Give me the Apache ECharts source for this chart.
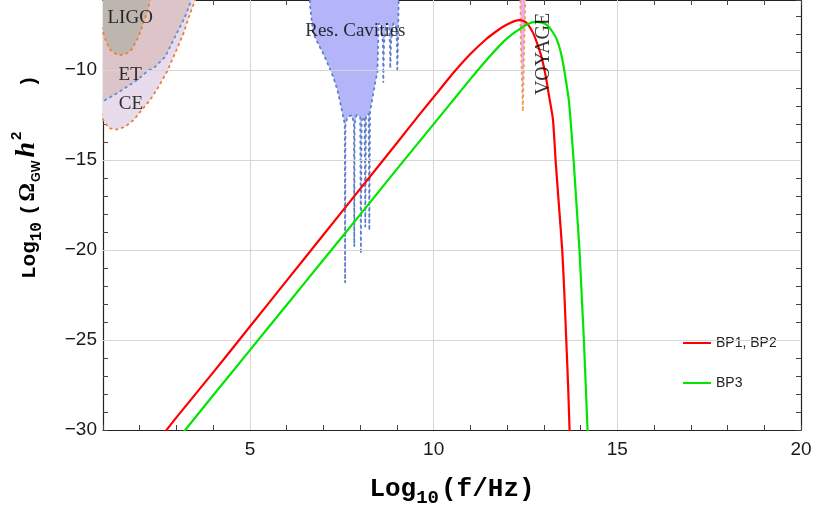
<!DOCTYPE html>
<html>
<head>
<meta charset="utf-8">
<script src="https://cdn.jsdelivr.net/npm/echarts@6/dist/echarts.min.js"></script>
<style>
  html, body { margin: 0; padding: 0; background: #fff; }
  #chart { width: 819px; height: 511px; }
</style>
</head>
<body>
<div id="chart"></div>
<script>
// spectra (log10 f, log10 Omega h^2)
const bp12 = [[2.5,-30.6],[3,-29.3],[4,-26.8],[5,-24.25],[6,-21.7],[7,-19.15],[8,-16.6],[9,-14.05],[9.64,-12.4],[10.1,-11.25],[10.55,-10.12],[11.0,-9.1],[11.45,-8.24],[11.7,-7.85],[11.91,-7.56],[12.1,-7.36],[12.32,-7.22],[12.45,-7.27],[12.55,-7.41],[12.7,-7.9],[12.82,-8.52],[12.92,-9.15],[13.0,-9.81],[13.07,-10.55],[13.13,-11.3],[13.19,-12.0],[13.25,-12.78],[13.32,-15],[13.41,-17.5],[13.5,-20],[13.56,-22.5],[13.61,-25],[13.66,-27.5],[13.70,-30],[13.72,-31]];
const bp3 = [[3.0,-30.6],[4,-28.07],[5,-25.56],[6,-23.05],[7,-20.54],[8,-18.03],[9,-15.5],[10,-13.0],[10.5,-11.75],[11.0,-10.5],[11.5,-9.3],[11.91,-8.4],[12.15,-7.98],[12.36,-7.69],[12.55,-7.45],[12.77,-7.32],[12.95,-7.36],[13.09,-7.5],[13.23,-7.85],[13.36,-8.33],[13.46,-9.0],[13.54,-9.81],[13.61,-10.7],[13.68,-11.67],[13.72,-12.6],[13.77,-13.9],[13.81,-15],[13.89,-17.5],[13.97,-20],[14.03,-22.5],[14.09,-25],[14.14,-27.5],[14.19,-30],[14.21,-31]];

// detector sensitivity edges
const ligoEdge = [[0.9,-7.3],[1.03,-8.06],[1.10,-8.48],[1.19,-8.85],[1.33,-9.07],[1.46,-9.17],[1.65,-9.07],[1.78,-8.85],[1.87,-8.52],[1.96,-8.15],[2.03,-7.78],[2.10,-7.32],[2.19,-6.85],[2.26,-6.29],[2.30,-5.8],[0.9,-5.8]];
const etEdge = [[0.9,-11.8],[1.05,-11.67],[1.37,-11.30],[1.65,-10.93],[1.92,-10.56],[2.19,-10.09],[2.42,-9.81],[2.69,-9.26],[2.87,-8.52],[3.05,-7.78],[3.23,-7.04],[3.37,-6.29],[3.43,-5.8],[0.9,-5.8]];
const ceEdge = [[0.95,-12.4],[1.01,-12.78],[1.10,-13.06],[1.19,-13.24],[1.37,-13.30],[1.60,-13.15],[1.83,-12.78],[2.05,-12.22],[2.28,-11.67],[2.51,-10.93],[2.74,-10.09],[2.96,-9.07],[3.19,-7.96],[3.37,-6.85],[3.51,-6.11],[3.53,-5.8],[0.95,-5.8]];
const cavityEdge = [[6.62,-5.8],[6.64,-6.5],[6.72,-7.94],[6.85,-8.5],[6.99,-9.06],[7.13,-9.7],[7.27,-10.39],[7.38,-11.1],[7.46,-11.83],[7.54,-12.6],[7.58,-13.0],[7.59,-21.8],[7.60,-13.0],[7.66,-12.6],[7.78,-12.5],[7.83,-13],[7.84,-19.8],[7.85,-13],[7.9,-12.5],[8.0,-12.6],[8.02,-20.2],[8.04,-12.8],[8.12,-12.6],[8.14,-18.7],[8.16,-12.6],[8.23,-12.4],[8.25,-18.9],[8.27,-12.3],[8.33,-11.6],[8.41,-10.7],[8.47,-10.1],[8.49,-8.5],[8.5,-7.4],[8.58,-7.6],[8.62,-8.5],[8.63,-10.7],[8.65,-8.5],[8.72,-7.4],[8.79,-7.6],[8.81,-8.5],[8.82,-9.9],[8.84,-8.5],[8.9,-7.4],[8.98,-7.6],[9.0,-8.5],[9.01,-10.1],[9.03,-8.5],[9.05,-5.8]];
const voyagerEdge = [[12.36,-5.8],[12.37,-8.2],[12.43,-12.3],[12.47,-8.2],[12.50,-5.8]];

const labelNames = ['LIGO', 'ET', 'CE', 'Res. Cavities'];
const labelPos = [[1.74,-7.11],[1.74,-10.28],[1.76,-11.9],[7.87,-7.83]];
const voyagerLabel = [13.0,-9.1];

const gridX = [5, 10, 15];
const gridY = [-10, -15, -20, -25];

const chart = echarts.init(document.getElementById('chart'));

const minus = v => (v < 0 ? '\u2212' + Math.abs(v) : String(v));
const fmt = v => (Math.abs(v % 5) < 1e-6 ? minus(v) : '');

function region(edge, fill, z) {
    return {
        type: 'custom', clip: true, silent: true, z: z,
        data: [edge[0]],
        renderItem: (params, api) => ({
            type: 'polygon',
            shape: { points: edge.map(p => api.coord(p)) },
            style: { fill: fill }
        })
    };
}
function dotted(edge, color, z) {
    return {
        type: 'line', data: edge, symbol: 'none', silent: true, z: z,
        lineStyle: { color: color, width: 1.8, type: [1.5, 4.5], cap: 'round' }
    };
}

const frameLine = { onZero: false, lineStyle: { color: '#222', width: 1.2 } };
const tick = { inside: true, length: 5, lineStyle: { color: '#444' } };
const mono = { fontFamily: 'Liberation Mono', fontWeight: 'bold', color: '#000', verticalAlign: 'bottom' };
const bold = (family, size, extra) => Object.assign({ fontFamily: family, fontWeight: 'bold', fontSize: size, color: '#000', verticalAlign: 'bottom' }, extra);

chart.setOption({
    animation: false,
    grid: { left: 103, right: 18, top: 0, bottom: 81, outerBoundsMode: 'none' },
    legend: {
        data: ['BP1, BP2', 'BP3'],
        orient: 'vertical', left: 683, top: 336, padding: 0,
        icon: 'rect', itemWidth: 28, itemHeight: 2, itemGap: 26,
        textStyle: { fontFamily: 'Liberation Sans', fontSize: 14, lineHeight: 14, color: '#222' }
    },
    xAxis: [{
        type: 'value', min: 1, max: 20, interval: 1, position: 'bottom',
        axisLine: frameLine, axisTick: tick, splitLine: { show: false },
        axisLabel: { formatter: fmt, fontFamily: 'Liberation Sans', fontSize: 19, color: '#1a1a1a', margin: 10 },
        name: '{m|Log}{s|10}{m|(f/Hz)}',
        nameLocation: 'middle', nameGap: 46,
        nameTextStyle: {
            rich: {
                m: Object.assign({ fontSize: 26, padding: [0, 0, 6, 0] }, mono),
                s: Object.assign({ fontSize: 19, padding: [0, 2, 0, 0] }, mono)
            }
        }
    }, {
        type: 'value', min: 1, max: 20, interval: 1, position: 'top',
        axisLine: frameLine, axisTick: tick, splitLine: { show: false }, axisLabel: { show: false }
    }],
    yAxis: [{
        type: 'value', min: -30, max: -6.1, interval: 1, position: 'left',
        axisLine: frameLine, axisTick: tick, splitLine: { show: false },
        axisLabel: { formatter: fmt, fontFamily: 'Liberation Sans', fontSize: 19, color: '#1a1a1a', margin: 6 },
        name: '{m|Log}{s|10}{q|(}{o|\u03A9}{g|GW}{h|h}{p|2}{c|)}',
        nameLocation: 'middle', nameRotate: 90, nameGap: 58,
        nameTextStyle: {
            padding: [0, 0, 0, 76],
            rich: {
                m: Object.assign({ fontSize: 21, padding: [0, 0, 5, 0] }, mono),
                s: Object.assign({ fontSize: 16 }, mono),
                q: Object.assign({ fontSize: 21, padding: [0, 2, 5, 6] }, mono),
                o: bold('Liberation Serif', 23, { padding: [0, 1, 5, 0] }),
                g: bold('Liberation Sans', 12.5, { padding: [0, 3, 2, 0] }),
                h: bold('Liberation Serif', 28, { fontStyle: 'italic', padding: [0, 2, 4, 0] }),
                p: bold('Liberation Sans', 15, { padding: [0, 0, 21, 0] }),
                c: Object.assign({ fontSize: 21, padding: [0, 0, 5, 44] }, mono)
            }
        }
    }, {
        type: 'value', min: -30, max: -6.1, interval: 1, position: 'right',
        axisLine: frameLine, axisTick: tick, splitLine: { show: false }, axisLabel: { show: false }
    }],
    series: [
        region(ceEdge, '#e8dbeb', 1),
        region(etEdge, '#dcc4c8', 1),
        region(ligoEdge, '#bdb6ae', 1),
        region(cavityEdge, '#b4b4f8', 1),
        region(voyagerEdge, '#f7a8f3', 1),
        {
            type: 'line', data: [], silent: true, z: 2,
            markLine: {
                silent: true, symbol: 'none', label: { show: false },
                lineStyle: { color: '#d6d6d6', type: 'solid', width: 1 },
                data: gridX.map(v => ({ xAxis: v })).concat(gridY.map(v => ({ yAxis: v })))
            }
        },
        dotted(ceEdge.slice(0, -1), '#e8803a', 3),
        dotted(etEdge.slice(0, -1), '#5b8ed6', 3),
        dotted(ligoEdge.slice(0, -1), '#e8803a', 3),
        dotted(cavityEdge, '#5b7fc6', 3),
        dotted(voyagerEdge, '#e8a040', 3),
        {
            name: 'BP1, BP2', type: 'line', data: bp12, symbol: 'none', z: 5, smooth: 0.25,
            lineStyle: { color: '#ff0000', width: 2.2 }, itemStyle: { color: '#ff0000' }
        },
        {
            name: 'BP3', type: 'line', data: bp3, symbol: 'none', z: 5, smooth: 0.25,
            lineStyle: { color: '#00e600', width: 2.2 }, itemStyle: { color: '#00e600' }
        },
        {
            type: 'scatter', symbolSize: 0, silent: true, z: 6,
            data: labelNames.map((n, i) => ({ name: n, value: labelPos[i] }))
                .concat([{ name: 'VOYAGE', value: voyagerLabel, label: { rotate: 90, fontSize: 20 } }]),
            label: {
                show: true, position: 'inside', formatter: p => p.name,
                fontFamily: 'Liberation Serif', fontSize: 19, color: '#000'
            }
        }
    ]
});
</script>
</body>
</html>
